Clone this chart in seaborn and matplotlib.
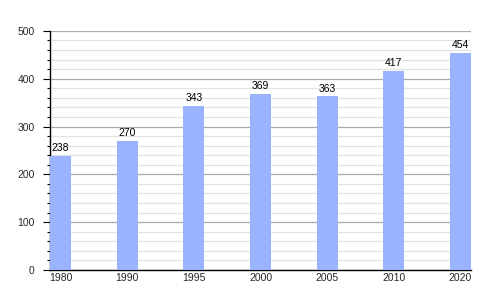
import matplotlib
matplotlib.use("Agg")
import matplotlib.pyplot as plt
import seaborn as sns
import pandas as pd
from matplotlib.ticker import MultipleLocator

years = ["1980", "1990", "1995", "2000", "2005", "2010", "2020"]
population = [238, 270, 343, 369, 363, 417, 454]

df = pd.DataFrame({"year": years, "pop": population})

sns.set_theme(style="white")
plt.rcParams["font.family"] = ["Liberation Sans", "DejaVu Sans"]

fig = plt.figure(figsize=(5, 3), dpi=100)
ax = fig.add_axes([0.1, 0.1, 0.842, 0.797])

w = 0.315
sns.barplot(data=df, x="year", y="pop", color="#99b3ff", saturation=1,
            width=w, ax=ax, zorder=3, linewidth=0, edgecolor="none")

ax.set_xlim(-w / 2, len(years) - 1 + w / 2)
ax.set_ylim(0, 500)
ax.yaxis.set_major_locator(MultipleLocator(100))
ax.yaxis.set_minor_locator(MultipleLocator(20))
ax.grid(which="major", axis="y", color="#aaaaaa", linewidth=0.9, zorder=1)
ax.grid(which="minor", axis="y", color="#e2e2e2", linewidth=0.9, zorder=0)
ax.set_axisbelow(True)

for s in ["top", "right"]:
    ax.spines[s].set_visible(False)
for s in ["left", "bottom"]:
    ax.spines[s].set_color("black")
    ax.spines[s].set_linewidth(1.0)

ax.tick_params(axis="y", which="major", length=5, width=0.8, color="black",
               direction="out", labelsize=7.5, pad=6, left=True)
ax.tick_params(axis="y", which="minor", length=2.5, width=0.8, color="black",
               direction="out", left=True)
ax.tick_params(axis="x", length=0, labelsize=7.5, pad=2)
ax.set_xlabel("")
ax.set_ylabel("")

for i, v in enumerate(population):
    ax.text(i, v + 6, str(v), ha="center", va="bottom", fontsize=7.5, color="black")

fig.savefig("out.png", dpi=100)
